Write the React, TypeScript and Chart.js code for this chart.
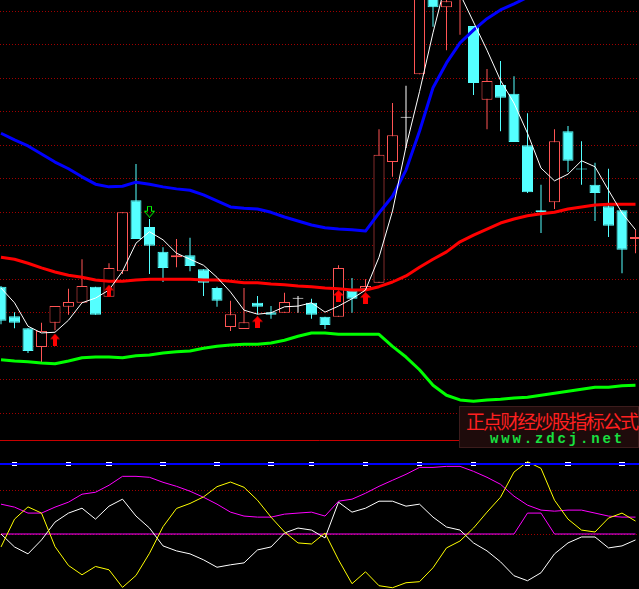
import { useEffect, useRef } from 'react';
import { Chart, registerables } from 'chart.js';

Chart.register(...registerables);

// ---- trading days (candle index) ----
const DAYS = [0, 1, 2, 3, 4, 5, 6, 7, 8, 9, 10, 11, 12, 13, 14, 15, 16, 17, 18, 19, 20, 21, 22, 23,
  24, 25, 26, 27, 28, 29, 30, 31, 32, 33, 34, 35, 36, 37, 38, 39, 40, 41, 42, 43, 44, 45, 46, 47];

// ---- candles ----
const OPEN = [9.89, 9.45, 9.27, 8.99, 9.35, 9.59, 9.65, 9.89, 9.74, 10.12, 11.18, 10.78, 10.41, 10.33, 10.36, 10.15,
  9.87, 9.29, 9.26, 9.65, 9.51, 9.50, 9.71, 9.65, 9.44, 9.44, 9.83, 9.86, 9.95, 11.75, 12.41, 13.06,
  14.45, 14.06, 14.25, 13.78, 12.68, 12.90, 12.77, 12.00, 11.03, 11.15, 12.21, 11.65, 11.41, 11.09, 11.03, 10.60];
const HIGH = [9.90, 9.51, 9.27, 9.35, 9.60, 9.86, 10.30, 9.89, 10.24, 11.00, 11.72, 10.90, 10.48, 10.60, 10.62, 10.15,
  9.89, 9.68, 9.87, 9.75, 9.60, 9.80, 9.75, 9.71, 9.44, 10.21, 10.02, 10.00, 12.24, 12.63, 12.89, 14.55,
  14.60, 14.35, 14.60, 13.78, 13.14, 13.26, 13.03, 12.48, 11.41, 12.24, 12.29, 12.06, 11.74, 11.65, 11.03, 10.74];
const LOW = [9.33, 9.27, 8.90, 8.75, 9.24, 9.47, 9.65, 9.47, 9.74, 10.08, 10.60, 10.08, 9.96, 10.18, 10.12, 9.75,
  9.59, 9.23, 9.26, 9.48, 9.41, 9.50, 9.50, 9.41, 9.26, 9.44, 9.50, 9.86, 9.95, 11.53, 11.96, 13.06,
  13.77, 13.42, 13.65, 12.75, 12.24, 12.21, 12.05, 11.29, 10.69, 11.05, 11.60, 11.41, 10.87, 10.63, 10.09, 10.39];
const CLOSE = [9.38, 9.35, 8.93, 9.23, 9.60, 9.66, 9.90, 9.47, 10.17, 11.00, 10.60, 10.50, 10.17, 10.36, 10.20, 9.95,
  9.68, 9.48, 9.36, 9.59, 9.47, 9.66, 9.71, 9.47, 9.32, 10.17, 9.71, 9.90, 11.86, 12.15, 12.41, 14.40,
  14.06, 14.15, 14.50, 12.93, 12.96, 12.71, 12.05, 11.30, 11.00, 12.06, 11.77, 11.64, 11.29, 10.80, 10.44, 10.63];

// ---- moving average and bands ----
const MA = [9.87, 9.65, 9.30, 9.20, 9.21, 9.39, 9.65, 9.72, 9.84, 10.12, 10.54, 10.71, 10.59, 10.39, 10.30, 10.21,
  10.03, 9.81, 9.54, 9.48, 9.50, 9.59, 9.60, 9.65, 9.51, 9.60, 9.71, 9.84, 10.33, 11.02, 11.98, 12.80,
  13.68, 14.47, 14.26, 13.84, 13.42, 12.97, 12.63, 12.18, 11.66, 11.47, 11.57, 11.77, 11.68, 11.33, 10.99, 10.74];
const UPPER = [12.18, 12.08, 11.99, 11.87, 11.75, 11.65, 11.53, 11.42, 11.38, 11.39, 11.45, 11.42, 11.38, 11.35, 11.33, 11.26,
  11.17, 11.08, 11.06, 11.05, 11.00, 10.93, 10.87, 10.81, 10.77, 10.75, 10.74, 10.72, 10.99, 11.24, 11.63, 12.21,
  12.86, 13.23, 13.53, 13.72, 13.89, 14.02, 14.11, 14.21, 14.30, 14.38, 14.44, 14.50, 14.54, 14.57, 14.60, 14.62];
const MID = [10.33, 10.30, 10.24, 10.17, 10.11, 10.06, 10.03, 9.99, 9.97, 9.97, 9.99, 10.00, 10.00, 10.00, 10.00, 9.99,
  9.99, 9.97, 9.95, 9.95, 9.93, 9.92, 9.90, 9.89, 9.87, 9.86, 9.84, 9.84, 9.89, 9.96, 10.05, 10.18,
  10.30, 10.41, 10.56, 10.66, 10.75, 10.84, 10.90, 10.95, 10.98, 11.00, 11.05, 11.08, 11.11, 11.12, 11.12, 11.12];
const LOWER = [8.80, 8.78, 8.77, 8.75, 8.74, 8.78, 8.83, 8.84, 8.84, 8.83, 8.86, 8.87, 8.90, 8.92, 8.93, 8.97,
  9.00, 9.02, 9.03, 9.03, 9.05, 9.09, 9.15, 9.20, 9.20, 9.18, 9.18, 9.18, 9.18, 9.00, 8.84, 8.65,
  8.42, 8.27, 8.20, 8.18, 8.20, 8.21, 8.23, 8.24, 8.27, 8.30, 8.33, 8.36, 8.39, 8.39, 8.41, 8.42];

// ---- signal arrows ----
const BUY_DAYS = [4, 8, 19, 25, 27];
const BUY_PRICE = [9.10, 9.83, 9.36, 9.75, 9.72];
const SELL_DAYS = [11];
const SELL_PRICE = [11.01];

// ---- lower oscillator ----
const OSC_YELLOW = [-14.8, 17.0, 31.0, 23.9, -14.4, -36.0, -46.6, -37.1, -40.9, -61.0, -47.4, -22.0, 8.3, 29.2, 34.9, 42.4,
  54.1, 59.4, 53.4, 38.6, 19.3, 2.3, -10.2, -11.4, 1.1, -29.5, -56.8, -43.2, -59.1, -61.4, -55.7, -54.5,
  -38.6, -15.9, -8.0, 6.8, 25.0, 42.0, 70.8, 82.6, 75.0, 38.6, 17.0, 4.5, 2.3, 18.2, 23.9, 14.8];
const OSC_WHITE = [0, -14.8, -22.7, -6.8, 13.6, 23.9, 29.5, 17.0, 31.8, 39.8, 20.5, 6.8, -13.6, -19.3, -22.7, -29.5,
  -38.0, -35.2, -33.0, -18.2, -14.8, 1.1, 6.8, 4.5, -4.5, 36.4, 25.0, 29.5, 37.5, 37.5, 31.8, 34.1,
  19.3, 8.0, 4.5, -10.2, -19.3, -31.8, -47.7, -53.4, -44.3, -22.7, -10.2, -3.4, -3.4, -15.9, -13.6, -6.8];
const OSC_MAGENTA = [34.1, 30.7, 23.9, 23.9, 30.7, 36.4, 45.5, 47.7, 55.7, 65.9, 65.9, 64.8, 59.1, 54.5, 48.9, 42.0,
  34.1, 25.0, 20.5, 19.3, 19.3, 22.7, 23.9, 25.0, 20.5, 37.5, 39.8, 46.6, 54.5, 61.4, 68.2, 76.1,
  76.1, 77.3, 77.3, 71.6, 64.8, 56.8, 43.2, 33.0, 27.3, 26.1, 27.3, 27.3, 23.9, 20.5, 19.3, 19.3];
const OSC_SIGNAL = [0, 0, 0, 0, 0, 0, 0, 0, 0, 0, 0, 0, 0, 0, 0, 0,
  0, 0, 0, 0, 0, 0, 0, 0, 0, 0, 0, 0, 0, 0, 0, 0,
  0, 0, 0, 0, 0, 0, 0, 23.9, 23.9, 0, 0, 0, 0, 0, 0, 0];
const OSC_LEVEL = 80;
const MARK_DAYS = [1, 5, 8, 12, 16, 20, 23, 27, 31, 35, 39, 42, 46];

// ---- grid levels ----
const PRICE_GRID = [8, 8.5, 9, 9.5, 10, 10.5, 11, 11.5, 12, 12.5, 13, 13.5, 14];
const OSC_GRID = [0, 50];
const PANEL_SPLIT = 107.4;

// ---- axis ranges ----
const X_MIN = -1 / 13.5;
const X_MAX = X_MIN + 639 / 13.5;
const Y_MAX = 14.169;
const Y_MIN = Y_MAX - 589 / 67;
const O_MAX = 534 / 0.875;
const O_MIN = -55 / 0.875;

const UP = '#ff5454';
const DOWN = '#54ffff';
const FLAT = '#ffffff';
const GRID_RED = '#a00000';

function kind(i: number) {
  return CLOSE[i] > OPEN[i] ? 'up' : CLOSE[i] < OPEN[i] ? 'down' : 'flat';
}
function candleColor(i: number) {
  const k = kind(i);
  return k === 'up' ? UP : k === 'down' ? DOWN : FLAT;
}

function upArrow(w: number, color: string) {
  const c = document.createElement('canvas');
  const h = 12;
  c.width = w; c.height = h;
  const g = c.getContext('2d')!;
  const mid = w / 2;
  const sh = w % 2 ? 2.5 : 2;
  g.fillStyle = color;
  g.beginPath();
  g.moveTo(mid, 0);
  g.lineTo(w, 5.5);
  g.lineTo(mid + sh, 5.5);
  g.lineTo(mid + sh, h);
  g.lineTo(mid - sh, h);
  g.lineTo(mid - sh, 5.5);
  g.lineTo(0, 5.5);
  g.closePath();
  g.fill();
  return c;
}

function downArrowOutline(w: number, color: string) {
  const c = document.createElement('canvas');
  const h = 12;
  c.width = w; c.height = h;
  const g = c.getContext('2d')!;
  const mid = w / 2;
  g.strokeStyle = color;
  g.lineWidth = 1;
  g.beginPath();
  g.moveTo(mid - 2, 0.5);
  g.lineTo(mid + 2, 0.5);
  g.lineTo(mid + 2, 5.5);
  g.lineTo(w - 0.5, 5.5);
  g.lineTo(mid, 11.5);
  g.lineTo(0.5, 5.5);
  g.lineTo(mid - 2, 5.5);
  g.closePath();
  g.stroke();
  return c;
}

function whiteBlock(w: number) {
  const c = document.createElement('canvas');
  c.width = w; c.height = 4;
  const g = c.getContext('2d')!;
  g.fillStyle = '#ffffff';
  g.fillRect(0, 0, w, 4);
  return c;
}

const pts = (arr: number[]) => DAYS.map((d, i) => ({ x: d, y: arr[i] }));

export default function App() {
  const ref = useRef<HTMLCanvasElement | null>(null);

  useEffect(() => {
    const canvas = ref.current;
    if (!canvas) return;
    const upOdd = upArrow(11, '#ff0000');
    const upEven = upArrow(10, '#ff0000');
    const downOdd = downArrowOutline(11, '#00ff00');
    const downEven = downArrowOutline(10, '#00ff00');
    const blkOdd = whiteBlock(5);
    const blkEven = whiteBlock(6);

    const line = (arr: number[], color: string, width: number, order: number, axis = 'y') => ({
      type: 'line',
      data: pts(arr),
      yAxisID: axis,
      borderColor: color,
      borderWidth: width,
      borderJoinStyle: 'round',
      pointRadius: 0,
      tension: 0,
      fill: false,
      order,
    });

    const datasets: any[] = [
      {
        type: 'bar',
        data: DAYS.map((d, i) => ({ x: d, y: [LOW[i], HIGH[i]] })),
        backgroundColor: DAYS.map((_, i) => candleColor(i)),
        borderWidth: 0,
        barThickness: 1,
        grouped: false,
        inflateAmount: 0,
        yAxisID: 'y',
        order: 20,
      },
      {
        type: 'bar',
        data: DAYS.map((d, i) => ({ x: d, y: [OPEN[i], CLOSE[i]] })),
        backgroundColor: DAYS.map((_, i) => (kind(i) === 'up' ? '#000000' : candleColor(i))),
        borderColor: DAYS.map((_, i) => candleColor(i)),
        borderWidth: 1,
        borderSkipped: false,
        barThickness: 11,
        minBarLength: 1,
        grouped: false,
        inflateAmount: 0,
        yAxisID: 'y',
        order: 19,
      },
      line(OSC_SIGNAL, '#ff00ff', 1, 12, 'y2'),
      {
        type: 'line',
        data: MARK_DAYS.map((d) => ({ x: d, y: OSC_LEVEL })),
        yAxisID: 'y2',
        showLine: false,
        pointRadius: 3,
        pointStyle: MARK_DAYS.map((d) => (d % 2 ? blkOdd : blkEven)),
        order: 11,
      },
      line(OSC_WHITE, '#ffffff', 1, 9, 'y2'),
      line(OSC_MAGENTA, '#ff00ff', 1, 8, 'y2'),
      line(OSC_YELLOW, '#ffff00', 1, 7, 'y2'),
      line(LOWER, '#00ff00', 3, 6),
      line(MID, '#ff0000', 3, 5),
      line(UPPER, '#0000ff', 3, 4),
      line(MA, '#ffffff', 1, 3),
      {
        type: 'line',
        data: BUY_DAYS.map((d, i) => ({ x: d, y: BUY_PRICE[i] })),
        yAxisID: 'y',
        showLine: false,
        pointRadius: 5,
        pointStyle: BUY_DAYS.map((d) => (d % 2 ? upOdd : upEven)),
        order: 1,
      },
      {
        type: 'line',
        data: SELL_DAYS.map((d, i) => ({ x: d, y: SELL_PRICE[i] })),
        yAxisID: 'y',
        showLine: false,
        pointRadius: 5,
        pointStyle: SELL_DAYS.map((d) => (d % 2 ? downOdd : downEven)),
        order: 1,
      },
    ];

    const chart = new Chart(canvas, {
      type: 'bar',
      data: { datasets },
      options: {
        animation: false,
        responsive: false,
        maintainAspectRatio: false,
        devicePixelRatio: 1,
        events: [],
        layout: { padding: 0, autoPadding: false },
        plugins: { legend: { display: false }, tooltip: { enabled: false } },
        scales: {
          x: { type: 'linear', min: X_MIN, max: X_MAX, display: false, offset: false },
          y: {
            type: 'linear',
            position: 'left',
            min: Y_MIN,
            max: Y_MAX,
            ticks: { display: false },
            grid: { color: GRID_RED, lineWidth: 1, drawTicks: false },
            border: { display: false, dash: [1, 2] },
            afterBuildTicks: (axis: any) => { axis.ticks = PRICE_GRID.map((v) => ({ value: v })); },
          },
          y2: {
            type: 'linear',
            position: 'left',
            min: O_MIN,
            max: O_MAX,
            ticks: { display: false },
            grid: { color: GRID_RED, lineWidth: 1, drawTicks: false },
            border: { display: false, dash: [1, 2] },
            afterBuildTicks: (axis: any) => { axis.ticks = OSC_GRID.map((v) => ({ value: v })); },
          },
          y3: {
            type: 'linear',
            position: 'left',
            min: O_MIN,
            max: O_MAX,
            ticks: { display: false },
            grid: {
              z: 1,
              drawTicks: false,
              color: (ctx: any) => (ctx.tick && ctx.tick.value === OSC_LEVEL ? '#0000ff' : '#c80000'),
              lineWidth: (ctx: any) => (ctx.tick && ctx.tick.value === OSC_LEVEL ? 2 : 1),
            },
            border: { display: false },
            afterBuildTicks: (axis: any) => { axis.ticks = [PANEL_SPLIT, OSC_LEVEL].map((v) => ({ value: v })); },
          },
        },
      } as any,
    } as any);

    return () => chart.destroy();
  }, []);

  return (
    <div style={{ position: 'fixed', left: 0, top: 0, width: 639, height: 589, background: '#000', overflow: 'hidden' }}>
      <canvas ref={ref} width={639} height={589} style={{ display: 'block', width: 639, height: 589 }} />
      <div
        style={{
          position: 'absolute', left: 459, top: 406, width: 180, height: 42,
          background: '#1e0b0b', border: '1px solid #3c1c1c', boxSizing: 'border-box',
        }}
      />
      <div
        style={{
          position: 'absolute', left: 466, top: 411, fontFamily: '"Noto Sans CJK SC", sans-serif',
          fontSize: 19, fontWeight: 'normal', letterSpacing: '-1.9px', lineHeight: '19px',
          color: '#ff2020', whiteSpace: 'nowrap',
        }}
      >
        正点财经炒股指标公式
      </div>
      <div
        style={{
          position: 'absolute', left: 490, top: 432, fontFamily: '"Liberation Mono", monospace',
          fontSize: 14, fontWeight: 'bold', letterSpacing: '2.85px', lineHeight: '14px',
          color: '#18e040', whiteSpace: 'nowrap',
        }}
      >
        www.zdcj.net
      </div>
    </div>
  );
}
